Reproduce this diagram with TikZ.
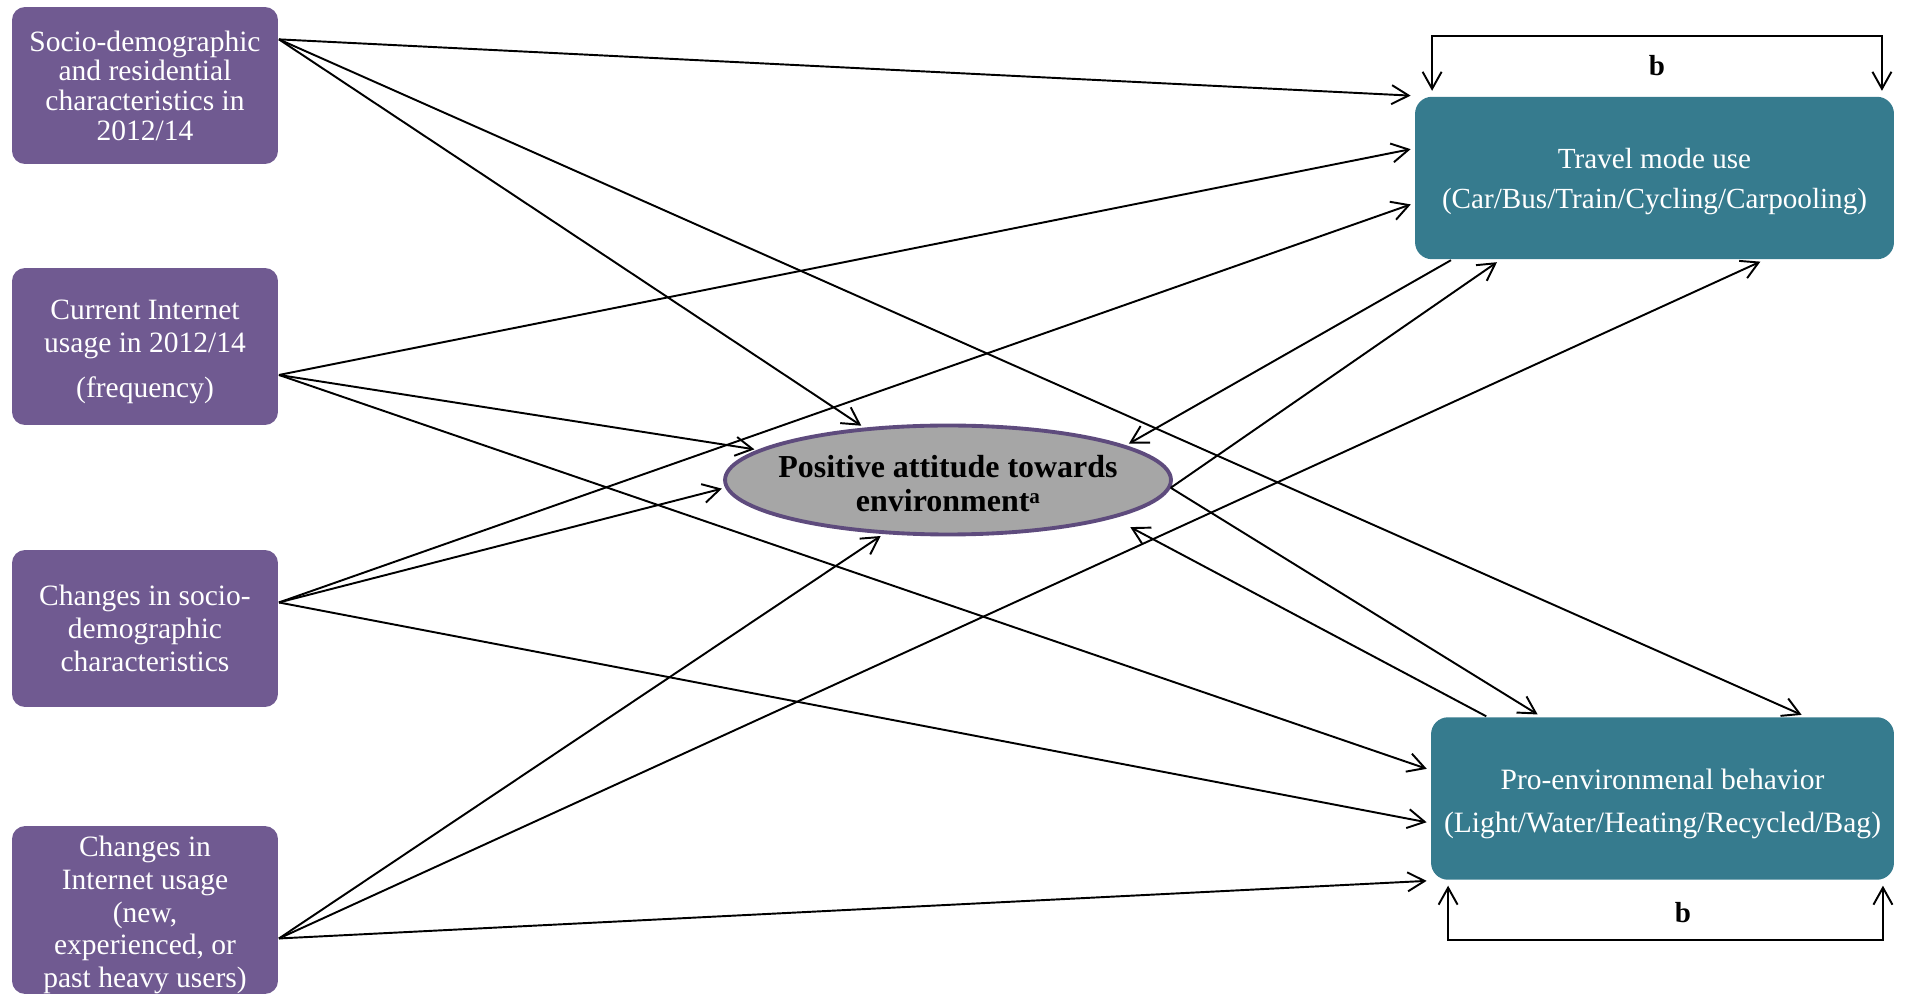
\documentclass[tikz,border=0pt]{standalone}
\usepackage{fontspec}
\setmainfont{Liberation Serif}
\usepackage{tikz}
\usetikzlibrary{arrows.meta,shapes.geometric}
\definecolor{boxpurple}{HTML}{705A91}
\definecolor{boxteal}{HTML}{367B8E}
\definecolor{ringpurple}{HTML}{5E4B7D}
\definecolor{ovalgray}{HTML}{A6A6A6}

\begin{document}
\begin{tikzpicture}[x=0.02cm,y=0.02cm,line width=1.1pt,
    >={Straight Barb[length=0.34cm,width=0.38cm]},
    left node/.style={rectangle,rounded corners=0.26cm,fill=boxpurple,text=white,
      minimum width=5.32cm,minimum height=3.14cm,inner sep=0pt,align=center,
      font=\fontsize{16.8}{18.6}\selectfont},
    right node/.style={rectangle,rounded corners=0.34cm,fill=boxteal,text=white,
      minimum height=3.25cm,inner sep=0pt,align=center},
    att node/.style={ellipse,draw=ringpurple,line width=2.2pt,fill=ovalgray,
      minimum width=8.92cm,minimum height=2.18cm,inner xsep=-0.26cm,inner ysep=0pt,
      align=center,font=\bfseries\fontsize{18.2}{19.5}\selectfont},
    blabel/.style={font=\bfseries\fontsize{16.5}{16.5}\selectfont}]
  \useasboundingbox (0,0) rectangle (1905,994);

  \node[left node,font=\fontsize{16.8}{16.9}\selectfont] (sd1) at (145,908.5) {Socio-demographic\\and residential\\characteristics in\\2012/14};
  \node[left node] (net1) at (145,647.5) {\rule{0pt}{17.5pt}Current Internet\\usage in 2012/14\\[0.26cm](frequency)};
  \node[left node] (sd2) at (145,365.5) {Changes in socio-\\demographic\\characteristics};
  \node[left node,minimum height=3.2cm] (net2) at (145,84) {\rule{0pt}{17.5pt}Changes in\\Internet usage\\(new,\\experienced, or\\past heavy users)};
  \node[att node] (att) at (948,514) {\rule{0pt}{17pt}Positive attitude towards\\environment\raisebox{4.5pt}{\fontsize{12}{12}\selectfont a}};
  \node[right node,minimum width=9.58cm,font=\fontsize{16.6}{22.6}\selectfont] (travel) at (1654.5,816)
    {\rule{0pt}{15.5pt}Travel mode use\\(Car/Bus/Train/Cycling/Carpooling)};
  \node[right node,minimum width=9.26cm,font=\fontsize{16.8}{24.4}\selectfont] (pro) at (1662.5,195.5)
    {\rule{0pt}{17.5pt}Pro-environmenal behavior\\(Light/Water/Heating/Recycled/Bag)};

\begin{scope}[->,shorten >=2pt]
    % socio-demographic 2012/14
    \path (sd1.19.7) edge (travel.north west);
    \path (sd1.19.7) edge (att.148.8);
    \path (sd1.19.7) edge (pro.30.7);
    % internet usage 2012/14
    \path (net1.-12.1) edge (travel.173.3);
    \path (net1.-12.1) edge (att.171.4);
    \path (net1.-12.1) edge (pro.173);
    % changes in socio-demographics
    \path (sd2.11.7) edge (travel.186.9);
    \path (sd2.11.7) edge (att.182.3);
    \path (sd2.11.7) edge (pro.186.8);
    % changes in internet usage
    \path (net2.-12.9) edge (att.220.5);
    \path (net2.-12.9) edge (travel.323);
    \path (net2.-12.9) edge (pro.south west);
    % attitude <-> outcomes
    \path (travel.202.3) edge (att.11.4);
    \path (att.-2) edge (travel.208.8);
    \path (att.-2) edge (pro.146.8);
    \path[shorten >=0.38cm] (pro.155.7) edge (att.-13.3);
\end{scope}

  % b brackets
  \draw[<->] ([shift={(18,5)}]travel.north west) -- ++(0,55)
    -| node[pos=0.25,yshift=-0.6cm,blabel] (b1) {b}
    ([shift={(-13,5)}]travel.north east);
  \draw[<->] ([shift={(18,-5)}]pro.south west) -- ++(0,-54)
    -| node[pos=0.27,yshift=0.54cm,blabel] (b2) {b}
    ([shift={(-12,-5)}]pro.south east);
\end{tikzpicture}
\end{document}
